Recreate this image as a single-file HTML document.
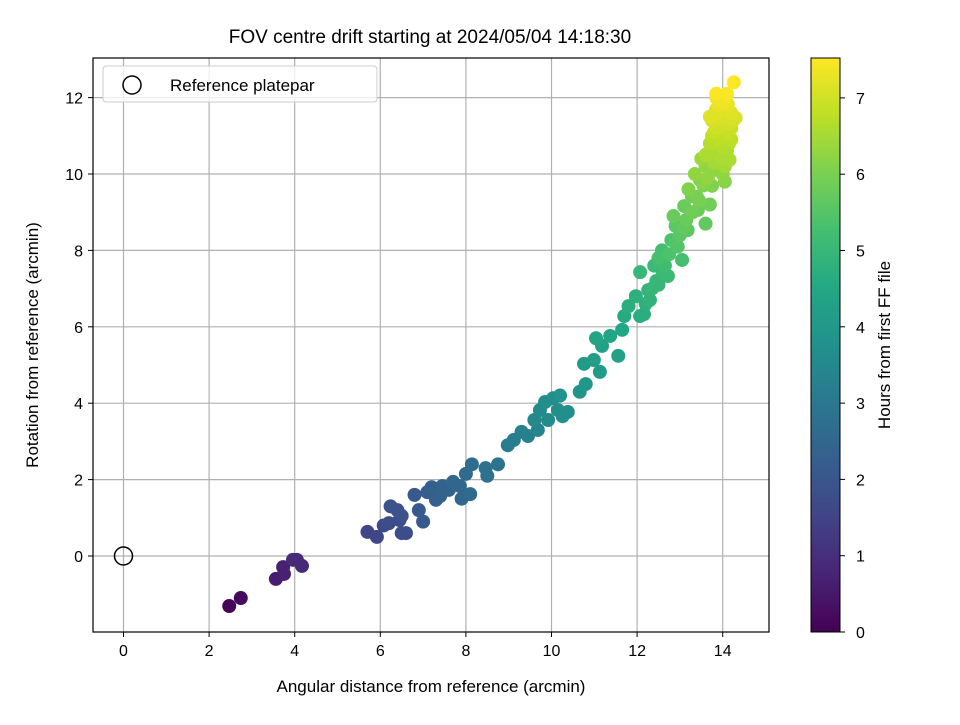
<!DOCTYPE html>
<html><head><meta charset="utf-8"><style>
body{margin:0;background:#fff;}
svg{font-family:"Liberation Sans","DejaVu Sans",sans-serif;}
</style></head><body>
<svg id="chart" width="960" height="720" xmlns="http://www.w3.org/2000/svg">
<rect width="960" height="720" fill="#fff"/>
<text x="430" y="43" font-size="19" text-anchor="middle" fill="#000">FOV centre drift starting at 2024/05/04 14:18:30</text>
<g id="grid"></g>
<g id="points"></g>
<rect x="93" y="58" width="676" height="574" fill="none" stroke="#000" stroke-width="1.2"/>
<g id="xticks"></g>
<g id="yticks"></g>
<text x="431" y="692" font-size="17" text-anchor="middle">Angular distance from reference (arcmin)</text>
<text transform="translate(38,345) rotate(-90)" font-size="17" text-anchor="middle">Rotation from reference (arcmin)</text>
<g>
<rect x="103" y="66" width="274" height="36" rx="3" fill="#fff" fill-opacity="0.8" stroke="#ccc"/>
<circle cx="132" cy="85" r="9" fill="none" stroke="#000" stroke-width="1.5"/>
<text x="170" y="91" font-size="17">Reference platepar</text>
</g>
<defs><linearGradient id="vir" x1="0" y1="1" x2="0" y2="0">
<stop offset="0" stop-color="#440154"/><stop offset="0.1" stop-color="#482475"/><stop offset="0.2" stop-color="#414487"/><stop offset="0.3" stop-color="#355f8d"/><stop offset="0.4" stop-color="#2a788e"/><stop offset="0.5" stop-color="#21918c"/><stop offset="0.6" stop-color="#22a884"/><stop offset="0.7" stop-color="#44bf70"/><stop offset="0.8" stop-color="#7ad151"/><stop offset="0.9" stop-color="#bddf26"/><stop offset="1" stop-color="#fde725"/>
</linearGradient></defs>
<rect x="811" y="58" width="29" height="574" fill="url(#vir)" stroke="#000" stroke-width="1"/>
<g id="cticks"></g>
<text transform="translate(890,345) rotate(-90)" font-size="17" text-anchor="middle">Hours from first FF file</text>
</svg>
<script>
const xTicks=[0,2,4,6,8,10,12,14];
const yTicks=[0,2,4,6,8,10,12];
const cTicks=[0,1,2,3,4,5,6,7];
const xs=[2.47,2.74,3.56,3.73,3.75,3.96,4.05,4.17,5.7,5.92,6.08,6.2,6.24,6.4,6.45,6.5,6.6,6.5,6.8,6.9,7.0,7.1,7.2,7.3,7.45,7.4,7.6,7.7,7.86,7.9,8.0,8.1,8.14,8.46,8.5,8.75,8.98,9.12,9.3,9.45,9.6,9.68,9.73,9.85,9.92,10.04,10.15,10.2,10.26,10.38,10.66,10.76,10.8,10.99,11.04,11.13,11.18,11.37,11.56,11.65,11.7,11.8,11.97,12.07,12.07,12.16,12.26,12.3,12.4,12.5,12.58,12.72,12.8,12.9,13.05,13.1,13.18,13.28,13.42,13.47,13.6,13.6,13.7,13.75,13.84,13.9,13.94,14.03,14.08,14.12,14.16,14.26,14.3,
12.2,12.35,12.6,12.5,12.75,12.9,13.0,12.85,13.15,13.3,13.2,13.45,13.55,13.35,13.65,13.5,13.8,13.7,13.95,13.85,14.05,13.75,14.1,13.9,14.15,14.0,13.8,14.2,13.95,14.1,13.85,14.05,14.2,13.7,13.6,14.0,
12.45,12.65,12.95,13.1,13.4,13.55,13.6,13.8,13.9,14.0,14.1,13.75,13.65,13.9,14.05,14.15,13.85,13.7,14.0,14.1,13.95,14.2,13.8,14.05,14.25];
const ys=[-1.31,-1.1,-0.6,-0.29,-0.47,-0.1,-0.1,-0.26,0.63,0.5,0.8,0.86,1.3,1.2,0.94,0.6,0.6,1.05,1.6,1.2,0.9,1.67,1.8,1.47,1.83,1.57,1.73,1.94,1.83,1.5,2.15,1.62,2.4,2.3,2.1,2.4,2.9,3.04,3.25,3.14,3.56,3.3,3.82,4.03,3.56,4.13,3.82,4.2,3.66,3.77,4.3,5.03,4.5,5.13,5.7,4.82,5.5,5.76,5.24,5.92,6.28,6.54,6.8,7.43,6.28,6.33,6.96,6.7,7.6,7.1,8.0,7.33,8.27,8.64,7.75,9.16,8.53,9.42,9.06,9.84,8.7,10.2,10.6,9.69,11.68,10.9,12.04,10.47,11.15,11.83,10.37,12.4,11.47,
6.6,7.0,7.4,7.8,7.9,8.2,8.4,8.9,8.8,9.0,9.6,9.3,9.7,10.0,9.9,10.4,10.1,10.8,10.6,11.2,10.2,11.4,11.0,11.6,10.8,11.9,11.1,11.2,11.5,12.1,12.0,11.7,10.9,9.2,10.5,10.0,
7.2,7.6,8.1,8.6,9.4,9.8,10.5,10.3,10.9,11.3,10.6,11.0,9.9,11.8,11.9,11.3,12.1,11.5,10.7,11.1,10.4,11.6,11.4,9.8,11.4];
const hrs=[0.1,0.2,0.6,0.7,0.7,0.9,0.9,0.9,1.6,1.6,1.7,1.8,1.9,1.9,1.8,1.8,1.8,1.9,2.1,2.1,2.1,2.2,2.3,2.3,2.4,2.4,2.4,2.5,2.5,2.5,2.6,2.6,2.7,2.8,2.8,2.9,3.1,3.2,3.3,3.3,3.5,3.4,3.6,3.7,3.6,3.7,3.7,3.8,3.7,3.7,3.9,4.1,4.0,4.2,4.4,4.1,4.3,4.4,4.3,4.5,4.6,4.7,4.8,5.0,4.7,4.7,4.9,4.9,5.1,5.0,5.3,5.1,5.4,5.6,5.3,5.8,5.6,5.9,5.8,6.1,5.7,6.3,6.6,6.1,7.2,6.8,7.4,6.6,6.9,7.3,6.6,7.55,7.1,
4.8,5.0,5.1,5.3,5.4,5.5,5.6,5.8,5.8,5.9,6.1,6.0,6.1,6.3,6.2,6.4,6.3,6.7,6.6,7.0,6.5,7.0,6.8,7.2,6.7,7.4,6.9,6.9,7.1,7.5,7.4,7.2,6.8,5.9,6.6,6.3,
5.0,5.2,5.5,5.7,6.0,6.2,6.5,6.5,6.8,7.0,6.6,6.8,6.3,7.3,7.4,7.0,7.5,7.2,6.7,6.9,6.6,7.2,7.1,6.2,7.1];
const X=v=>123.5+v*42.8, Y=v=>556-v*38.2, C=v=>632-v*76.3;
const NS="http://www.w3.org/2000/svg";
function mk(t,a,p){const e=document.createElementNS(NS,t);for(const k in a)e.setAttribute(k,a[k]);p.appendChild(e);return e;}
const stops=[[68,1,84],[72,36,117],[65,68,135],[53,95,141],[42,120,142],[33,145,140],[34,168,132],[68,191,112],[122,209,81],[189,223,38],[253,231,37]];
function vir(h){let f=Math.max(0,Math.min(1,h/7.55))*10;let i=Math.min(9,Math.floor(f)),r=f-i;const a=stops[i],b=stops[i+1];return`rgb(${a.map((v,k)=>Math.round(v+(b[k]-v)*r)).join(',')})`;}
const g=document.getElementById('grid'),xt=document.getElementById('xticks'),yt=document.getElementById('yticks'),ct=document.getElementById('cticks'),pts=document.getElementById('points');
xTicks.forEach(v=>{const x=X(v);
const l=mk('line',{x1:x,x2:x,y1:58,y2:632,stroke:'#b0b0b0','stroke-width':1.2},g);
const t=mk('line',{x1:x,x2:x,y1:632,y2:637,stroke:'#000'},xt);
const s=mk('text',{x:x,y:656,'font-size':16,'text-anchor':'middle'},xt);s.textContent=v;});
yTicks.forEach(v=>{const y=Y(v);
const l=mk('line',{x1:93,x2:769,y1:y,y2:y,stroke:'#b0b0b0','stroke-width':1.2},g);
const t=mk('line',{x1:88,x2:93,y1:y,y2:y,stroke:'#000'},yt);
const s=mk('text',{x:83,y:y+6,'font-size':16,'text-anchor':'end'},yt);s.textContent=v;});
cTicks.forEach(v=>{const y=C(v);
const t=mk('line',{x1:840,x2:845,y1:y,y2:y,stroke:'#000'},ct);
const s=mk('text',{x:856,y:y+6,'font-size':16},ct);s.textContent=v;});
const order=hrs.map((h,i)=>i).sort((a,b)=>hrs[a]-hrs[b]);
order.forEach(i=>{const c=mk('circle',{cx:X(xs[i]),cy:Y(ys[i]),r:7,fill:vir(hrs[i])},pts);});
const r=mk('circle',{cx:X(0),cy:Y(0),r:9,fill:'none',stroke:'#000','stroke-width':1.5},pts);


</script>
</body></html>
